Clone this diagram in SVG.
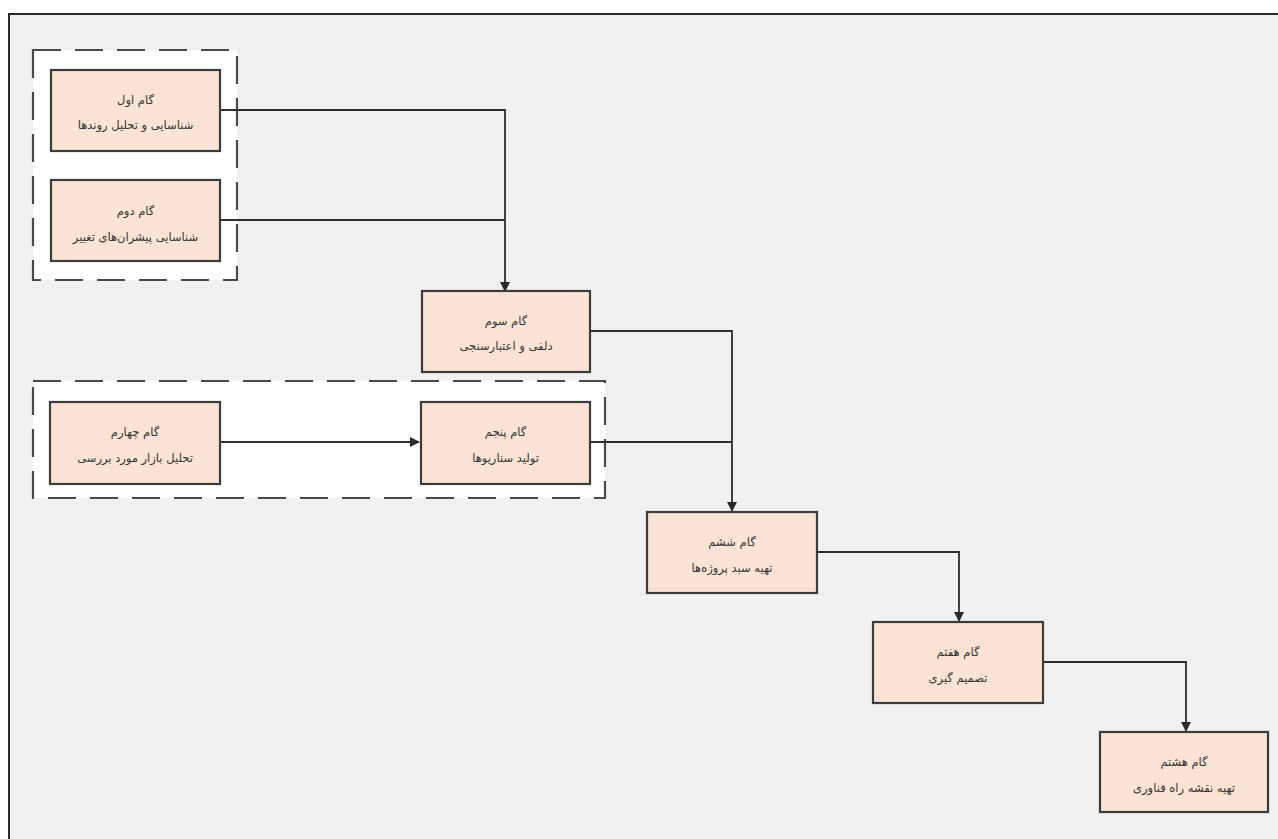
<svg xmlns="http://www.w3.org/2000/svg" width="1278" height="839" viewBox="0 0 1278 839">
<defs>
<marker id="arr" markerWidth="10" markerHeight="10" refX="9" refY="5" orient="auto" markerUnits="userSpaceOnUse"><path d="M0,0 L10,5 L0,10 Z" fill="#2a2a2a"/></marker>
<style>
.box{fill:#fbe4d5;stroke:#3c3c3c;stroke-width:2.2}
.grp{fill:#ffffff;stroke:#4a4a4a;stroke-width:2.2;stroke-dasharray:28,14}
.t{font-family:"DejaVu Sans",sans-serif;font-size:11.5px;fill:#333;text-anchor:middle}
.c{fill:none;stroke:#2e2e2e;stroke-width:1.8}
</style>
</defs>
<rect x="0" y="0" width="1278" height="839" fill="#ffffff"/>
<rect x="9" y="14" width="1269" height="825" fill="#f1f1f1"/>
<path d="M9,839 V14 H1278" fill="none" stroke="#2a2a2a" stroke-width="2"/>
<g id="group1"><rect class="grp" x="33" y="50" width="204" height="230"/></g>
<g id="group2"><rect class="grp" x="33" y="381" width="572" height="117"/></g>
<g id="connectors">
<path class="c" d="M220,110 H505 V291" marker-end="url(#arr)"/>
<path class="c" d="M220,220 H505"/>
<path class="c" d="M590,331 H732 V511" marker-end="url(#arr)"/>
<path class="c" d="M590,442 H732"/>
<path class="c" d="M220,442 H419" marker-end="url(#arr)"/>
<path class="c" d="M817,552 H959 V621" marker-end="url(#arr)"/>
<path class="c" d="M1043,662 H1186 V731" marker-end="url(#arr)"/>
</g>
<g id="n1"><rect class="box" x="51" y="70" width="169" height="81"/><text class="t" x="135.5" y="104" direction="rtl">گام اول</text><text class="t" x="135.5" y="129" direction="rtl">شناسایی و تحلیل روندها</text></g>
<g id="n2"><rect class="box" x="51" y="180" width="169" height="81"/><text class="t" x="135.5" y="215" direction="rtl">گام دوم</text><text class="t" x="135.5" y="241" direction="rtl">شناسایی پیشران‌های تغییر</text></g>
<g id="n3"><rect class="box" x="422" y="291" width="168" height="81"/><text class="t" x="506" y="325" direction="rtl">گام سوم</text><text class="t" x="506" y="350" direction="rtl">دلفی و اعتبارسنجی</text></g>
<g id="n4"><rect class="box" x="50" y="402" width="170" height="82"/><text class="t" x="135" y="436" direction="rtl">گام چهارم</text><text class="t" x="135" y="462" direction="rtl">تحلیل بازار مورد بررسی</text></g>
<g id="n5"><rect class="box" x="421" y="402" width="169" height="82"/><text class="t" x="505.5" y="436" direction="rtl">گام پنجم</text><text class="t" x="505.5" y="462" direction="rtl">تولید سناریوها</text></g>
<g id="n6"><rect class="box" x="647" y="512" width="170" height="81"/><text class="t" x="732" y="546" direction="rtl">گام ششم</text><text class="t" x="732" y="572" direction="rtl">تهیه سبد پروژه‌ها</text></g>
<g id="n7"><rect class="box" x="873" y="622" width="170" height="81"/><text class="t" x="958" y="656" direction="rtl">گام هفتم</text><text class="t" x="958" y="682" direction="rtl">تصمیم گیری</text></g>
<g id="n8"><rect class="box" x="1100" y="732" width="168" height="80"/><text class="t" x="1184" y="766" direction="rtl">گام هشتم</text><text class="t" x="1184" y="792" direction="rtl">تهیه نقشه راه فناوری</text></g>
</svg>
